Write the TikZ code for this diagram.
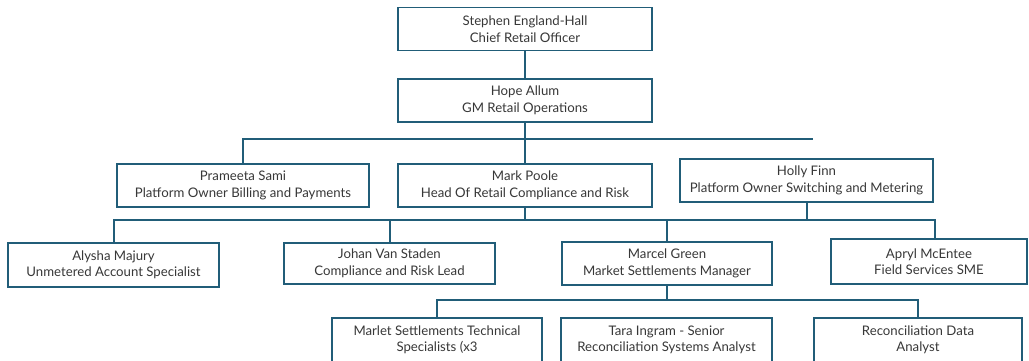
\documentclass[tikz,border=0pt]{standalone}
\usepackage{fontspec}
\setmainfont{Lato}
\definecolor{orgline}{HTML}{215D78}
\definecolor{orgtext}{HTML}{383838}

\begin{document}
\begin{tikzpicture}[x=1pt,y=-1pt,
  role/.style={draw=orgline, line width=1.3pt, fill=white, align=center,
    text=orgtext, font=\fontsize{13.2}{16.5}\selectfont, inner sep=0pt,
    minimum height=43pt},
  link/.style={draw=orgline, line width=2pt}]
  \useasboundingbox (0,0) rectangle (1029,360);

  % leadership
  \node[role, minimum width=254pt] (ceo)  at (525,29)    {Stephen England-Hall\\Chief Retail Officer};
  \node[role, minimum width=254pt] (hope) at (525,100.5) {Hope Allum\\GM Retail Operations};

  % second tier
  \node[role, minimum width=252pt] (prameeta) at (243,185.5)   {Prameeta Sami\\Platform Owner Billing and Payments};
  \node[role, minimum width=254pt] (mark)     at (525,185.5)   {Mark Poole\\Head Of Retail Compliance and Risk};
  \node[role, minimum width=253pt] (holly)    at (806.5,180.5) {Holly Finn\\Platform Owner Switching and Metering};

  % third tier
  \node[role, minimum width=211pt, minimum height=44pt] (alysha) at (113.5,265) {Alysha Majury\\Unmetered Account Specialist};
  \node[role, minimum width=211pt, minimum height=41pt] (johan)  at (389.5,263.5) {Johan Van Staden\\Compliance and Risk Lead};
  \node[role, minimum width=210pt] (marcel) at (667,263.5) {Marcel Green\\Market Settlements Manager};
  \node[role, minimum width=196pt, minimum height=45pt] (apryl)  at (929,261.5) {Apryl McEntee\\Field Services SME};

  % settlements team
  \node[role, minimum width=210pt, minimum height=44pt] (marlet) at (437,340)   {Marlet Settlements Technical\\Specialists (x3};
  \node[role, minimum width=211pt, minimum height=44pt] (tara)   at (666.5,340) {Tara Ingram - Senior\\Reconciliation Systems Analyst};
  \node[role, minimum width=208pt, minimum height=44pt] (recon)  at (918,340)   {Reconciliation Data\\Analyst};

  % bus lines
  \coordinate (busAend) at (813,139);
  \coordinate (busB) at (0,220);
  \coordinate (aprylDrop) at (935,239);
  \coordinate (busC) at (0,300);

  % connectors
  \draw[link] (ceo.south) -- (hope.north);
  \draw[link] (hope.south) -- (mark.north);
  \draw[link] (prameeta.north) |- (busAend);

  \draw[link] (alysha.north) |- (aprylDrop |- busB) -- (aprylDrop);
  \draw[link] (mark.south) -- (mark.south |- busB);
  \draw[link] (holly.south) -- (holly.south |- busB);
  \draw[link] (johan.north) -- (johan.north |- busB);
  \draw[link] (marcel.north) -- (marcel.north |- busB);

  \draw[link] (marlet.north) |- (recon.north |- busC) -- (recon.north);
  \draw[link] (marcel.south) -- (marcel.south |- busC);
\end{tikzpicture}
\end{document}
